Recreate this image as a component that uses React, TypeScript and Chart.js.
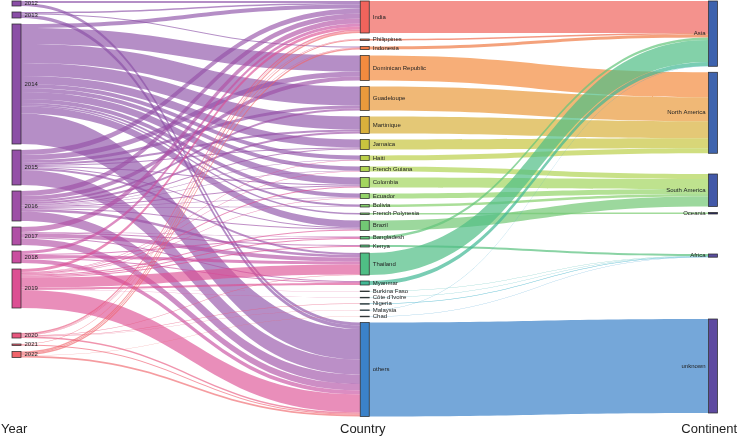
import React, { useEffect, useRef } from 'react';
import { Chart, registerables } from 'chart.js';

Chart.register(...registerables);

// ---------------- DATA ----------------
const years = ['2012', '2013', '2014', '2015', '2016', '2017', '2018', '2019', '2020', '2021', '2022'];

const countries = [
  'India', 'Philippines', 'Indonesia', 'Dominican Republic', 'Guadeloupe', 'Martinique', 'Jamaica', 'Haiti',
  'French Guiana', 'Colombia', 'Ecuador', 'Bolivia', 'French Polynesia', 'Brazil', 'Bangladesh', 'Kenya',
  'Thailand', 'Myanmar', 'Burkina Faso', "Côte d'Ivoire", 'Nigeria', 'Malaysia', 'Chad', 'others',
];

const continents = ['Asia', 'North America', 'South America', 'Oceania', 'Africa', 'unknown'];

const countryContinent = [
  'Asia', 'Asia', 'Asia', 'North America', 'North America', 'North America', 'North America', 'North America',
  'South America', 'South America', 'South America', 'South America', 'Oceania', 'South America', 'Asia', 'Africa',
  'Asia', 'Asia', 'Africa', 'Africa', 'Africa', 'Asia', 'Africa', 'unknown',
];

const columnTitles = ['Year', 'Country', 'Continent'];

// Year -> Country flows (parallel arrays)
const linkYear = [
  '2012', '2012',
  '2013', '2013', '2013',
  '2014', '2014', '2014', '2014', '2014', '2014', '2014', '2014', '2014', '2014', '2014', '2014', '2014',
  '2015', '2015', '2015', '2015', '2015', '2015', '2015', '2015', '2015',
  '2016', '2016', '2016', '2016', '2016', '2016', '2016', '2016', '2016', '2016', '2016', '2016', '2016',
  '2017', '2017', '2017', '2017', '2017', '2017',
  '2018', '2018', '2018', '2018', '2018',
  '2019', '2019', '2019', '2019', '2019', '2019', '2019', '2019', '2019', '2019', '2019', '2019', '2019',
  '2020', '2020', '2020', '2020', '2020', '2020', '2020',
  '2021', '2021',
  '2022', '2022', '2022', '2022', '2022',
];
const linkCountry = [
  'India', 'others',
  'India', 'Indonesia', 'others',
  'India', 'Dominican Republic', 'Guadeloupe', 'Martinique', 'Jamaica', 'Haiti', 'French Guiana', 'Colombia', 'Ecuador', 'Bolivia', 'French Polynesia', 'Brazil', 'others',
  'India', 'Dominican Republic', 'Guadeloupe', 'Martinique', 'Jamaica', 'Colombia', 'Brazil', 'Thailand', 'others',
  'India', 'Dominican Republic', 'Guadeloupe', 'Martinique', 'Jamaica', 'Haiti', 'French Guiana', 'Colombia', 'Ecuador', 'Bolivia', 'Brazil', 'Thailand', 'others',
  'India', 'Bangladesh', 'Kenya', 'Thailand', 'Myanmar', 'others',
  'India', 'Bangladesh', 'Thailand', 'Myanmar', 'others',
  'India', 'Haiti', 'French Guiana', 'Colombia', 'Ecuador', 'Brazil', 'Bangladesh', 'Kenya', 'Thailand', 'Myanmar', 'Burkina Faso', "Côte d'Ivoire", 'others',
  'India', 'Philippines', 'Indonesia', 'Thailand', 'Nigeria', 'Malaysia', 'others',
  'India', 'others',
  'India', 'Philippines', 'Indonesia', 'Chad', 'others',
];
const linkValue = [
  2, 3,
  1.5, 1, 3.5,
  4, 16, 19, 13, 8, 4, 4, 7, 4, 2, 1.5, 7, 30.5,
  5, 5, 3, 2, 1, 1, 1, 2, 15,
  5, 4, 2, 2, 1, 0.5, 0.5, 1, 0.5, 0.5, 1, 2.5, 9.5,
  5, 0.5, 1, 4, 1, 6.5,
  3, 1, 3, 1, 4,
  3, 0.5, 0.5, 1, 0.5, 1, 1, 1, 10, 2, 0.3, 0.3, 17.9,
  1.5, 0.5, 0.5, 0.5, 0.3, 0.3, 1.4,
  0.5, 1,
  1.5, 1, 1.5, 0.3, 1.7,
];

// ---------------- STYLE / LAYOUT ----------------
const yearColors = ['#8a4ea6', '#8a4ea6', '#8b4fa6', '#9450a7', '#9d4fa6', '#b04fa5', '#c94d9f', '#dc4f93', '#e8577f', '#ef5f72', '#f0646a'];
const countryColors = [
  '#f0645c', '#ee6e4e', '#f07a45', '#f38b3f', '#e99a3c', '#d9b03c', '#c8c43e', '#bcd04a',
  '#b0d454', '#a3d65e', '#93d468', '#86d06c', '#7bcc70', '#72c874', '#63c47a', '#58c17e',
  '#4fbe85', '#40b894', '#36b4a8', '#30b0b8', '#2fabc4', '#34a4cc', '#3a9bd0', '#3b82c9',
];
const continentColors = ['#3d62ae', '#3f64ae', '#4258a8', '#2b2d63', '#5a4e9f', '#5e4aa0'];
const YEAR_LINK_ALPHA = 0.64;
const COUNTRY_LINK_ALPHA = 0.7;
const NODE_PAD = 6;
const NODE_TOP = 1;
const NODE_WIDTH = 9;
const extraGap: Record<string, number> = {
  '2020': 19,
  'South America': 14.7,
  Africa: 34,
  unknown: 55.8,
};
const FONT = '"Liberation Sans", Arial, Helvetica, sans-serif';

function rgba(hex: string, a: number) {
  const n = parseInt(hex.slice(1), 16);
  return `rgba(${(n >> 16) & 255},${(n >> 8) & 255},${n & 255},${a})`;
}

type SNode = { name: string; col: number; value: number; top: number; color: string; out: SLink[]; inc: SLink[] };
type SLink = { s: SNode; t: SNode; v: number; color: string; sy: number; ty: number };

function buildGraph() {
  const nodes: SNode[] = [];
  const byName: Record<string, SNode> = {};
  const add = (name: string, col: number, color: string) => {
    const n: SNode = { name, col, value: 0, top: 0, color, out: [], inc: [] };
    nodes.push(n);
    byName[col + ':' + name] = n;
  };
  years.forEach((y, i) => add(y, 0, yearColors[i]));
  countries.forEach((c, i) => add(c, 1, countryColors[i]));
  continents.forEach((c, i) => add(c, 2, continentColors[i]));

  const links: SLink[] = [];
  const link = (s: SNode, t: SNode, v: number, color: string) => {
    const l: SLink = { s, t, v, color, sy: 0, ty: 0 };
    links.push(l);
    s.out.push(l);
    t.inc.push(l);
  };
  linkValue.forEach((v, i) => {
    const s = byName['0:' + linkYear[i]];
    const t = byName['1:' + linkCountry[i]];
    link(s, t, v, rgba(s.color, YEAR_LINK_ALPHA));
  });
  countries.forEach((c, i) => {
    const s = byName['1:' + c];
    const v = s.inc.reduce((a, l) => a + l.v, 0);
    link(s, byName['2:' + countryContinent[i]], v, rgba(s.color, COUNTRY_LINK_ALPHA));
  });
  nodes.forEach((n) => {
    const i = n.inc.reduce((a, l) => a + l.v, 0);
    const o = n.out.reduce((a, l) => a + l.v, 0);
    n.value = Math.max(i, o);
  });
  [0, 1, 2].forEach((col) => {
    let y = NODE_TOP;
    let first = true;
    nodes.filter((n) => n.col === col).forEach((n) => {
      if (!first) y += NODE_PAD;
      y += extraGap[n.name] && col !== 1 ? extraGap[n.name] : 0;
      n.top = y;
      y += n.value;
      first = false;
    });
  });
  nodes.forEach((n) => {
    let o = n.top;
    [...n.out].sort((a, b) => a.t.top - b.t.top).forEach((l) => { l.sy = o; o += l.v; });
    let k = n.top;
    [...n.inc].sort((a, b) => a.s.top - b.s.top).forEach((l) => { l.ty = k; k += l.v; });
  });
  return { nodes, links };
}

const sankeyPlugin = {
  id: 'sankeyDraw',
  afterDatasetsDraw(chart: any) {
    const { ctx } = chart;
    const xs = chart.scales.x;
    const ys = chart.scales.y;
    const { nodes, links } = buildGraph();
    const py = (v: number) => ys.getPixelForValue(v);
    const left = (n: SNode) => xs.getPixelForValue(n.col) - NODE_WIDTH / 2;

    ctx.save();
    links.forEach((l) => {
      const x0 = left(l.s) + NODE_WIDTH;
      const x1 = left(l.t);
      const xm = (x0 + x1) / 2;
      const s0 = py(l.sy), s1 = py(l.sy + l.v);
      const t0 = py(l.ty), t1 = py(l.ty + l.v);
      ctx.beginPath();
      ctx.moveTo(x0, s0);
      ctx.bezierCurveTo(xm, s0, xm, t0, x1, t0);
      ctx.lineTo(x1, t1);
      ctx.bezierCurveTo(xm, t1, xm, s1, x0, s1);
      ctx.closePath();
      ctx.fillStyle = l.color;
      ctx.fill();
    });
    nodes.forEach((n) => {
      const x = left(n);
      const y0 = py(n.top);
      const h = Math.max(py(n.top + n.value) - y0, 0.6);
      ctx.fillStyle = n.color;
      ctx.fillRect(x, y0, NODE_WIDTH, h);
      ctx.strokeStyle = 'rgba(40,40,40,0.9)';
      ctx.lineWidth = 0.8;
      ctx.strokeRect(x, y0, NODE_WIDTH, h);
    });
    ctx.font = `6px ${FONT}`;
    ctx.fillStyle = '#222';
    ctx.textBaseline = 'middle';
    nodes.forEach((n) => {
      const yc = py(n.top + n.value / 2);
      if (n.col === 2) {
        ctx.textAlign = 'right';
        ctx.fillText(n.name, left(n) - 3, yc);
      } else {
        ctx.textAlign = 'left';
        ctx.fillText(n.name, left(n) + NODE_WIDTH + 3.5, yc);
      }
    });
    ctx.font = `13px ${FONT}`;
    ctx.fillStyle = '#222';
    ctx.textBaseline = 'alphabetic';
    const ty = py(433);
    columnTitles.forEach((t, i) => {
      const x = xs.getPixelForValue(i);
      if (i === 0) { ctx.textAlign = 'left'; ctx.fillText(t, x - 15.5, ty); }
      else if (i === 1) { ctx.textAlign = 'center'; ctx.fillText(t, x - 2, ty); }
      else { ctx.textAlign = 'right'; ctx.fillText(t, x + 24, ty); }
    });
    ctx.restore();
  },
};

export default function App() {
  const ref = useRef<HTMLCanvasElement | null>(null);
  useEffect(() => {
    document.body.style.margin = '0';
    const canvas = ref.current;
    if (!canvas) return;
    const chart = new Chart(canvas, {
      type: 'scatter',
      data: { datasets: [{ data: [], pointRadius: 0 }] },
      options: {
        animation: false,
        responsive: false,
        devicePixelRatio: 1,
        layout: { padding: { left: 16.5, right: 26, top: 0, bottom: 0 } },
        scales: {
          x: { type: 'linear', min: 0, max: 2, display: false },
          y: { type: 'linear', min: 0, max: 436, reverse: true, display: false },
        },
        plugins: { legend: { display: false }, tooltip: { enabled: false } },
      },
      plugins: [sankeyPlugin],
    } as any);
    return () => chart.destroy();
  }, []);
  return (
    <div style={{ width: 739, height: 436, background: '#fff' }}>
      <canvas ref={ref} width={739} height={436} />
    </div>
  );
}
